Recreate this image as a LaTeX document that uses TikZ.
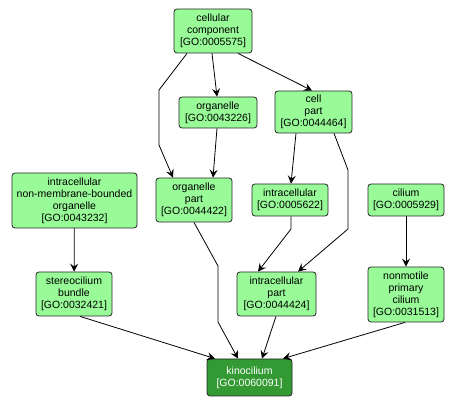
\documentclass[tikz,border=0pt]{standalone}
\usepackage{fontspec}
\setmainfont{Liberation Sans}
\usetikzlibrary{arrows.meta,calc}
\definecolor{lg}{HTML}{98FB98}
\definecolor{dg}{HTML}{339933}
\tikzset{
  go/.style={draw=black!85, fill=lg, rounded corners=3pt, line width=0.8pt, align=center, inner sep=0pt,
    font=\fontsize{10.5}{12}\selectfont},
  gohl/.style={go, fill=dg, text=white},
  link/.style={draw=black, line width=0.8pt, -{Stealth[length=8pt,width=8pt,inset=3pt]}}
}
\begin{document}
\begin{tikzpicture}[x=1pt,y=-1pt]
\useasboundingbox (0,0) rectangle (456,406);
\node[go, minimum width=78pt, minimum height=44pt] (cc) at (213,31) {cellular\\component\\{}[GO:0005575]};
\node[go, minimum width=78pt, minimum height=31pt] (org) at (218,112.5) {organelle\\{}[GO:0043226]};
\node[go, minimum width=77pt, minimum height=42pt] (cp) at (313.5,112) {cell\\part\\{}[GO:0044464]};
\node[go, minimum width=125pt, minimum height=55pt] (inm) at (74.5,200.5) {intracellular\\non-membrane-bounded\\organelle\\{}[GO:0043232]};
\node[go, minimum width=76pt, minimum height=44pt] (op) at (194,200) {organelle\\part\\{}[GO:0044422]};
\node[go, minimum width=76pt, minimum height=32pt] (ic) at (290,200) {intracellular\\{}[GO:0005622]};
\node[go, minimum width=76pt, minimum height=32pt] (cil) at (406,200) {cilium\\{}[GO:0005929]};
\node[go, minimum width=76pt, minimum height=44pt] (sb) at (74,294) {stereocilium\\bundle\\{}[GO:0032421]};
\node[go, minimum width=79pt, minimum height=44pt] (ip) at (276.5,294) {intracellular\\part\\{}[GO:0044424]};
\node[go, minimum width=76pt, minimum height=55pt] (npc) at (406,294.5) {nonmotile\\primary\\cilium\\{}[GO:0031513]};
\node[gohl, minimum width=85pt, minimum height=37pt] (kin) at (249.5,377.5) {kinocilium\\{}[GO:0060091]};

\draw[link] (cc.south -| 187,0) -- (159,90) -- (159,145) -- (op.north -| 173,0);
\draw[link] (cc.south -| 212,0) -- (org.north -| 217,0);
\draw[link] (cc.south -| 238,0) -- (cp.north -| 312,0);
\draw[link] (org.south -| 217,0) -- (op.north -| 213,0);
\draw[link] (cp.south -| 296,0) -- (ic.north -| 291,0);
\draw[link] (cp.south -| 334,0) -- (348,170) -- (348,229) -- (ip.north -| 298,0);
\draw[link] (ic.south -| 291,0) -- (291,229) -- (ip.north -| 258,0);
\draw[link] (op.south -| 194,0) -- (218,266) -- (218,322) -- (kin.north -| 238,0);
\draw[link] (ip.south -| 276,0) -- (kin.north -| 262,0);
\draw[link] (sb.south -| 80,0) -- (kin.north -| 215,0);
\draw[link] (npc.south -| 405,0) -- (kin.north -| 283,0);
\draw[link] (inm) -- (sb);
\draw[link] (cil) -- (npc);
\end{tikzpicture}
\end{document}
